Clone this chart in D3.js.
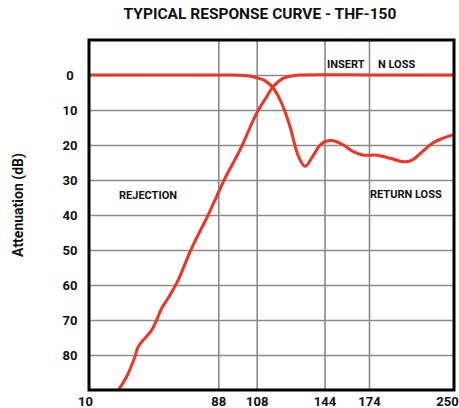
<!DOCTYPE html>
<html lang="en">
<head>
  <meta charset="UTF-8">
  <title>Typical Response Curve - THF-150</title>
  <script src="https://d3js.org/d3.v7.min.js"></script>
  <style>
    body {
      margin: 0;
      background: #fff;
      font-family: Roboto, 'Helvetica Neue', sans-serif;
    }
    .grid line {
      stroke: #8a8a8a;
      stroke-width: 1.6;
    }
    .grid path { display: none; }
    .axis path, .axis line { display: none; }
    .axis text {
      font: bold 13px Roboto, sans-serif;
      fill: #111;
    }
    .curve {
      fill: none;
      stroke: #ee3424;
      stroke-width: 3;
    }
    .note {
      font: bold 11px Roboto, sans-serif;
      fill: #111;
    }
  </style>
</head>
<body>
  <svg width="459" height="408"></svg>
  <script>
    // frequency ticks (MHz) - the chart spaces them unevenly
    const freqTicks = [10, 88, 108, 144, 174, 250];
    const dbTicks = [0, 10, 20, 30, 40, 50, 60, 70, 80];

    // rejection curve: [MHz, dB]
    const rejection = [
      [27.7, 90], [32.7, 86.2], [37.7, 80.5], [39.7, 77.6], [47.8, 72.9],
      [50.8, 70.0], [53.8, 66.7], [58.8, 62.9], [63.8, 58.6], [71.9, 49.5],
      [81.9, 40.0], [86.9, 34.8], [91.5, 29.5], [99.3, 21.4], [108, 10.9],
      [113.3, 6.2], [116.8, 3.3], [122.2, 0.9], [127.5, 0.2], [131, 0],
      [180, 0], [250, 0]
    ];

    // return loss curve: [MHz, dB]
    const returnLoss = [
      [10, 0], [50, 0], [95, 0], [99.3, 0.1], [104.5, 0.3], [108, 0.8],
      [112.4, 1.6], [116.8, 3.8], [121.3, 8.1], [125.7, 14.8], [130.2, 23.3],
      [133.7, 26.1], [137.3, 23.6], [141.7, 20.0], [144.5, 19.0], [150, 18.8],
      [156.7, 20.0], [163.4, 21.9], [170.1, 22.9], [181, 22.9], [193, 23.8],
      [205.1, 24.8], [212.6, 24.3], [221.7, 21.9], [230.7, 19.5], [239.8, 18.1],
      [249, 17.1]
    ];

    const svg = d3.select("svg");
    const plotL = 89, plotR = 454, plotT = 40, plotB = 390;

    const x = d3.scaleLinear()
      .domain(freqTicks)
      .range([plotL, 218.3, 256.7, 324.5, 369, plotR]);
    const y = d3.scaleLinear().domain([-10, 90]).range([plotT, plotB]);

    // title
    svg.append("text")
      .attr("x", 260).attr("y", 19)
      .attr("text-anchor", "middle")
      .style("font", "bold 15.5px Roboto, sans-serif")
      .style("fill", "#111")
      .text("TYPICAL RESPONSE CURVE - THF-150");

    // y axis title
    svg.append("text")
      .attr("transform", "translate(23,205) rotate(-90)")
      .attr("text-anchor", "middle")
      .style("font", "bold 14px Roboto, sans-serif")
      .style("fill", "#111")
      .text("Attenuation (dB)");

    // grid
    svg.append("g")
      .attr("class", "grid")
      .attr("transform", `translate(${plotL},0)`)
      .call(d3.axisLeft(y).tickValues(dbTicks).tickSize(-(plotR - plotL)).tickFormat(""));

    svg.append("g")
      .attr("class", "grid")
      .attr("transform", `translate(0,${plotB})`)
      .call(d3.axisBottom(x).tickValues(freqTicks.slice(1, -1)).tickSize(-(plotB - plotT)).tickFormat(""));

    // curves
    const line = d3.line()
      .x(d => x(d[0]))
      .y(d => y(d[1]))
      .curve(d3.curveCatmullRom);

    svg.append("clipPath").attr("id", "plot")
      .append("rect")
      .attr("x", plotL).attr("y", plotT)
      .attr("width", plotR - plotL).attr("height", plotB - plotT);

    svg.append("path")
      .datum(returnLoss)
      .attr("class", "curve")
      .attr("clip-path", "url(#plot)")
      .attr("d", line);

    svg.append("path")
      .datum(rejection)
      .attr("class", "curve")
      .attr("clip-path", "url(#plot)")
      .attr("d", line);

    // frame
    svg.append("rect")
      .attr("x", plotL).attr("y", plotT)
      .attr("width", plotR - plotL).attr("height", plotB - plotT)
      .attr("fill", "none")
      .attr("stroke", "#000")
      .attr("stroke-width", 3);

    // axis labels
    const xAxis = svg.append("g")
      .attr("class", "axis")
      .attr("transform", `translate(0,${plotB})`)
      .call(d3.axisBottom(x).tickValues(freqTicks).tickSize(0).tickPadding(7).tickFormat(d3.format("d")));
    xAxis.selectAll(".tick text")
      .attr("dx", (d, i) => i === 0 ? -4 : (i === freqTicks.length - 1 ? -7 : 0));

    const yAxis = svg.append("g")
      .attr("class", "axis")
      .attr("transform", `translate(70,0)`)
      .call(d3.axisLeft(y).tickValues(dbTicks).tickSize(0).tickPadding(0));
    yAxis.selectAll(".tick text").attr("text-anchor", "middle").attr("x", 0);

    // annotations
    svg.append("text").attr("class", "note").attr("x", 119).attr("y", 199).text("REJECTION");
    svg.append("text").attr("class", "note").attr("x", 370).attr("y", 198).text("RETURN LOSS");
    svg.append("text").attr("class", "note").attr("x", 327).attr("y", 68).text("INSERT");
    svg.append("text").attr("class", "note").attr("x", 378).attr("y", 68).text("N LOSS");
  </script>
</body>
</html>
